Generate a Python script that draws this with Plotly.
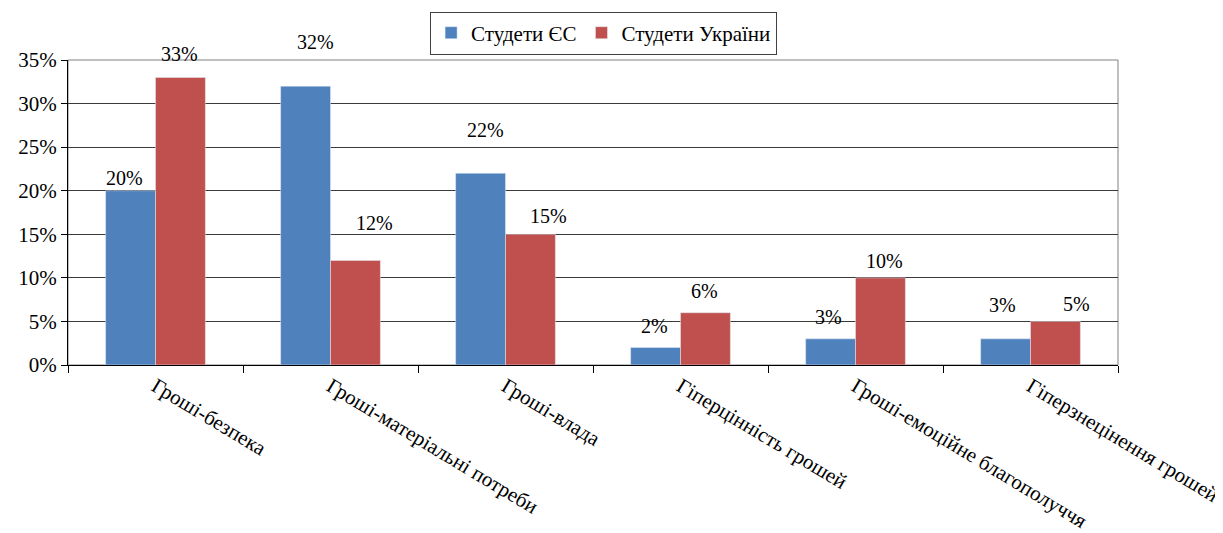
import plotly.graph_objects as go

# Data
categories = [
    "Гроші-безпека",
    "Гроші-матеріальні потреби",
    "Гроші-влада",
    "Гіперцінність грошей",
    "Гроші-емоційне благополуччя",
    "Гіперзнецінення грошей",
]
students_eu = [20, 32, 22, 2, 3, 3]
students_ua = [33, 12, 15, 6, 10, 5]
y_ticks = [0, 5, 10, 15, 20, 25, 30, 35]

# hand-placed label nudges (px) as in the source chart
eu_label_dx = [-6, 10, 5, -1, -2, -3]
eu_label_dy = [13, 44, 43, 22, 22, 34]
ua_label_dx = [-1, 19, 18, -1, 4, 21]
ua_label_dy = [23, 37, 18, 22, 17, 17]

FONT = "Liberation Serif"
BLUE = "#4F81BD"
RED = "#C0504D"
BAR_HALF = 25  # half a bar width in px

fig = go.Figure()
fig.add_trace(go.Bar(name="Студети ЄС", x=categories, y=students_eu, marker_color=BLUE))
fig.add_trace(go.Bar(name="Студети України", x=categories, y=students_ua, marker_color=RED))

# data labels
for vals, dxs, dys, side in [
    (students_eu, eu_label_dx, eu_label_dy, -1),
    (students_ua, ua_label_dx, ua_label_dy, 1),
]:
    for cat, v, dx, dy in zip(categories, vals, dxs, dys):
        fig.add_annotation(
            x=cat, y=v, text=f"{v}%", showarrow=False,
            xshift=side * BAR_HALF + dx, yshift=dy, yanchor="middle",
            font=dict(family=FONT, size=20, color="black"),
        )

# page body adds ~8px offset, so margins are shifted accordingly
fig.update_layout(
    width=1223,
    height=533,
    barmode="group",
    bargap=0.43,
    bargroupgap=0,
    paper_bgcolor="white",
    plot_bgcolor="white",
    font=dict(family=FONT, size=20, color="black"),
    margin=dict(l=60, r=113, t=52, b=176, autoexpand=False),
    legend=dict(
        orientation="h",
        xref="container",
        yref="container",
        x=0.487,
        xanchor="center",
        y=0.953,
        yanchor="middle",
        bordercolor="#404040",
        borderwidth=1,
        font=dict(family=FONT, size=21, color="black"),
        itemwidth=30,
    ),
    shapes=[
        dict(
            type="rect", xref="paper", yref="paper", x0=0, x1=1, y0=0, y1=1,
            line=dict(color="#808080", width=1), layer="below",
        )
    ],
)
fig.update_xaxes(
    type="category",
    automargin=False,
    tickangle=31,
    tickson="boundaries",
    ticks="outside",
    ticklen=7,
    tickcolor="black",
    showline=True,
    linecolor="black",
    linewidth=1,
    tickfont=dict(family=FONT, size=21, color="black"),
)
fig.update_yaxes(
    automargin=False,
    range=[0, 35],
    tickvals=y_ticks,
    ticktext=[f"{t}%" for t in y_ticks],
    ticks="outside",
    ticklen=6,
    tickcolor="black",
    showline=True,
    linecolor="black",
    linewidth=1,
    showgrid=True,
    gridcolor="#3a3a3a",
    gridwidth=1,
    zeroline=False,
    tickfont=dict(family=FONT, size=21, color="black"),
)

fig.write_html("out.html")
